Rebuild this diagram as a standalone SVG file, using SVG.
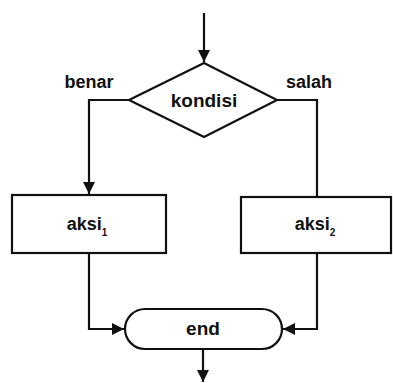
<svg xmlns="http://www.w3.org/2000/svg" width="393" height="383" viewBox="0 0 393 383">
  <style>
    .shape { fill: #fff; stroke: #111; stroke-width: 2.2; }
    .line { fill: none; stroke: #111; stroke-width: 2.2; }
    .lbl { font-family: "Liberation Sans", Arial, sans-serif; font-weight: bold; font-size: 18px; fill: #111; }
    .sub { font-size: 10px; }
  </style>
  <defs>
    <marker id="arrow" markerWidth="12" markerHeight="12" refX="10" refY="5" orient="auto" markerUnits="userSpaceOnUse" viewBox="0 0 10 10">
      <path d="M0,0 L10,5 L0,10 Z" fill="#111"/>
    </marker>
  </defs>

  <rect width="393" height="383" fill="#fff"/>

  <g id="connectors">
    <line class="line" x1="204" y1="13" x2="204" y2="62" marker-end="url(#arrow)"/>
    <polyline class="line" points="129,100 89,100 89,194" marker-end="url(#arrow)"/>
    <polyline class="line" points="277,100 317,100 317,197"/>
    <polyline class="line" points="89,253 89,329 124,329" marker-end="url(#arrow)"/>
    <polyline class="line" points="317,253 317,329 283,329" marker-end="url(#arrow)"/>
    <line class="line" x1="203" y1="349" x2="203" y2="382" marker-end="url(#arrow)"/>
  </g>

  <g id="label-benar">
    <text class="lbl" x="89" y="88" text-anchor="middle">benar</text>
  </g>
  <g id="label-salah">
    <text class="lbl" x="309" y="88" text-anchor="middle">salah</text>
  </g>

  <g id="kondisi">
    <polygon class="shape" points="204,63 277,100 204,137 129,100"/>
    <text class="lbl" x="204" y="107" text-anchor="middle" style="font-size:19px">kondisi</text>
  </g>

  <g id="aksi1">
    <rect class="shape" x="12" y="195" width="154" height="58"/>
    <text class="lbl" x="87" y="230" text-anchor="middle">aksi<tspan class="sub" dy="6">1</tspan></text>
  </g>

  <g id="aksi2">
    <rect class="shape" x="241" y="197" width="150" height="56"/>
    <text class="lbl" x="315" y="230" text-anchor="middle">aksi<tspan class="sub" dy="6">2</tspan></text>
  </g>

  <g id="end">
    <rect class="shape" x="125" y="309" width="157" height="40" rx="20" ry="20"/>
    <text class="lbl" x="203" y="335" text-anchor="middle" style="font-size:19px">end</text>
  </g>
</svg>
